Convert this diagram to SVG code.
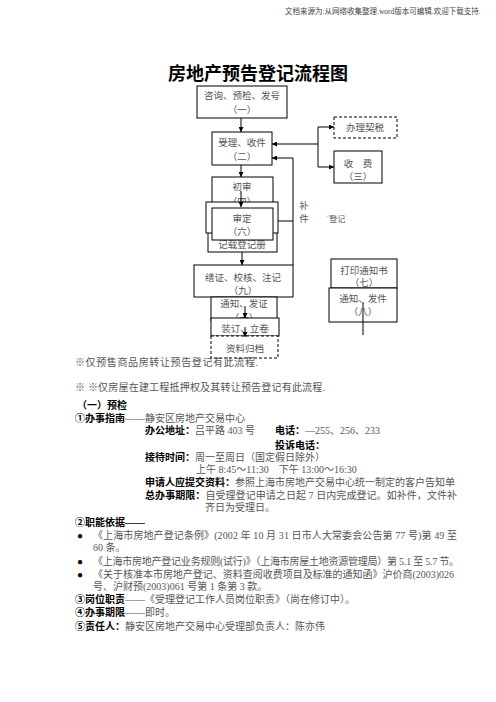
<svg xmlns="http://www.w3.org/2000/svg" width="496" height="702" viewBox="0 0 496 702">
<style>
text{font-family:"Liberation Serif","Noto Sans CJK SC",serif;}
.hdr{font-size:7.5px;fill:#444;}
.title{font-size:18px;font-weight:bold;fill:#000;text-anchor:middle;font-family:"Noto Sans CJK SC",sans-serif;}
.bt{font-size:9.5px;fill:#555;text-anchor:middle;}
.box{fill:#fff;stroke:#000;stroke-width:1;}
.dbox{fill:#fff;stroke:#000;stroke-width:1;stroke-dasharray:3,2;}
.ln{fill:none;stroke:#000;stroke-width:1;}
.t{font-size:10px;fill:#555;}
.b{font-size:10px;fill:#000;font-weight:bold;}
</style>
<defs>
<marker id="ah" viewBox="0 0 6 6" refX="6" refY="3" markerWidth="5" markerHeight="5" orient="auto">
<path d="M0,0 L6,3 L0,6 z" fill="#000"/>
</marker>
</defs>
<rect width="496" height="702" fill="#fff"/>
<text class="hdr" x="285" y="14">文档来源为:从网络收集整理.word版本可编辑.欢迎下载支持.</text>
<text class="title" x="258" y="80">房地产预告登记流程图</text>

<g id="n1"><rect class="box" x="197" y="86" width="90" height="32"/><text class="bt" x="242" y="99">咨询、预检、发号</text><text class="bt" x="242" y="113">（一）</text></g>
<g id="n2"><rect class="box" x="212" y="132" width="60" height="33"/><text class="bt" x="242" y="146">受理、收件</text><text class="bt" x="242" y="160">（二）</text></g>
<g id="tax"><rect class="dbox" x="334" y="117" width="63" height="21"/><text class="bt" x="365" y="131">办理契税</text></g>
<g id="n3"><rect class="box" x="334" y="151" width="48" height="32"/><text class="bt" x="358" y="167">收　费</text><text class="bt" x="358" y="180">（三）</text></g>
<g id="n4"><rect class="box" x="212" y="177" width="61" height="30"/><text class="bt" x="242" y="190">初审</text><text class="bt" x="242" y="205">（四）</text></g>
<g id="n5"><rect class="box" x="208" y="225" width="69" height="27"/><text class="bt" x="242" y="248">记载登记册</text></g>
<g id="n6"><rect class="box" x="206" y="202" width="72" height="31"/><rect class="box" x="212" y="208" width="61" height="32"/><text class="bt" x="242" y="222">审定</text><text class="bt" x="242" y="235">（六）</text></g>
<g id="n9"><rect class="box" x="194" y="265" width="99" height="32"/><text class="bt" x="243" y="281">缮证、校核、注记</text><text class="bt" x="243" y="294">（九）</text></g>
<g id="n10"><rect class="box" x="211" y="297" width="66" height="24"/><text class="bt" x="244" y="307">通知、发证</text><text class="bt" x="244" y="321">（十）</text></g>
<g id="n11"><rect class="box" x="211" y="318" width="68" height="18"/><text class="bt" x="245" y="332">装订、立卷</text></g>
<g id="n12"><rect class="dbox" x="211" y="336" width="67" height="22"/><text class="bt" x="245" y="352">资料归档</text></g>
<g id="n7"><rect class="box" x="331" y="259" width="66" height="29"/><text class="bt" x="364" y="274">打印通知书</text><text class="bt" x="364" y="286">（七）</text></g>
<g id="n8"><rect class="box" x="329" y="288" width="68" height="34"/><text class="bt" x="363" y="302">通知、发件</text><text class="bt" x="363" y="315">（八）</text></g>
<g id="lbl"><text class="bt" x="304" y="209">补</text><text class="bt" x="304" y="222">件</text><text class="bt" x="336" y="222" style="font-size:8px">ˊ登记</text></g>

<g id="connectors">
<line class="ln" x1="241" y1="118" x2="241" y2="132" marker-end="url(#ah)"/>
<line class="ln" x1="241" y1="165" x2="241" y2="177" marker-end="url(#ah)"/>
<line class="ln" x1="241" y1="191" x2="241" y2="207" marker-end="url(#ah)"/>
<line class="ln" x1="242" y1="252" x2="242" y2="265" marker-end="url(#ah)"/>
<line class="ln" x1="245" y1="306" x2="245" y2="318" marker-end="url(#ah)"/>
<line class="ln" x1="245" y1="327" x2="245" y2="337" marker-end="url(#ah)"/>
<line class="ln" x1="318" y1="144" x2="272" y2="144" marker-end="url(#ah)"/>
<line class="ln" x1="318" y1="127" x2="318" y2="167"/>
<line class="ln" x1="318" y1="127" x2="334" y2="127" marker-end="url(#ah)"/>
<line class="ln" x1="318" y1="167" x2="334" y2="167" marker-end="url(#ah)"/>
<polyline class="ln" points="293,265 293,158 272,158" marker-end="url(#ah)"/>
<line class="ln" x1="278" y1="221" x2="293" y2="221"/>
<line class="ln" x1="363" y1="302" x2="363" y2="335"/>
</g>

<text class="t" x="75" y="366" textLength="183">※仅预售商品房转让预告登记有此流程.</text>
<text class="t" x="75" y="391" textLength="250">※ ※仅房屋在建工程抵押权及其转让预告登记有此流程.</text>

<text class="b" x="77" y="409">（一）预检</text>
<text x="75" y="422"><tspan class="b">①办事指南</tspan><tspan class="t">——静安区房地产交易中心</tspan></text>
<text x="145" y="434"><tspan class="b">办公地址：</tspan><tspan class="t">吕平路 403 号</tspan></text>
<text x="275" y="434"><tspan class="b">电话：</tspan><tspan class="t">—255、256、233</tspan></text>
<text class="b" x="275" y="449">投诉电话：</text>
<text x="145" y="461"><tspan class="b">接待时间：</tspan><tspan class="t">周一至周日（国定假日除外）</tspan></text>
<text class="t" x="196" y="473">上午 8:45～11:30　下午 13:00～16:30</text>
<text x="145" y="486" textLength="310"><tspan class="b">申请人应提交资料：</tspan><tspan class="t">参照上海市房地产交易中心统一制定的客户告知单</tspan></text>
<text x="145" y="499" textLength="312"><tspan class="b">总办事期限：</tspan><tspan class="t">自受理登记申请之日起 7 日内完成登记。如补件，文件补</tspan></text>
<text class="t" x="205" y="511">齐日为受理日。</text>
<text class="b" x="75" y="526">②职能依据——</text>
<text class="b" x="77" y="539">●</text>
<text class="t" x="93" y="539" textLength="364">《上海市房地产登记条例》(2002 年 10 月 31 日市人大常委会公告第 77 号)第 49 至</text>
<text class="t" x="93" y="551">60 条。</text>
<text class="b" x="77" y="565">●</text>
<text class="t" x="93" y="565" textLength="366">《上海市房地产登记业务规则(试行)》（上海市房屋土地资源管理局）第 5.1 至 5.7 节。</text>
<text class="b" x="77" y="578">●</text>
<text class="t" x="93" y="578" textLength="361">《关于核准本市房地产登记、资料查阅收费项目及标准的通知函》沪价商(2003)026</text>
<text class="t" x="93" y="590">号、沪财预(2003)061 号第 1 条第 3 款。</text>
<text x="75" y="603"><tspan class="b">③岗位职责</tspan><tspan class="t">——《受理登记工作人员岗位职责》（尚在修订中）。</tspan></text>
<text x="75" y="616"><tspan class="b">④办事期限</tspan><tspan class="t">——即时。</tspan></text>
<text x="75" y="630"><tspan class="b">⑤责任人：</tspan><tspan class="t">静安区房地产交易中心受理部负责人：陈亦伟</tspan></text>
</svg>
